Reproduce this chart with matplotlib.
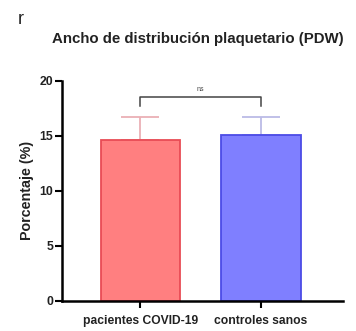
import matplotlib
matplotlib.use("Agg")
import matplotlib.pyplot as plt

plt.rcParams['font.family'] = ['Liberation Sans', 'DejaVu Sans']

categories = ["pacientes COVID-19", "controles sanos"]
means = [14.6, 15.1]
sd_upper = [2.1, 1.6]
yticks = [0, 5, 10, 15, 20]

face_colors = ["#FF7F80", "#7F7FFF"]
edge_colors = ["#E84C55", "#4C4CE6"]
err_colors = ["#EBB0B5", "#BBBBE6"]

fig = plt.figure(figsize=(3.56, 3.31), dpi=100)
ax = fig.add_axes([0.173, 0.0915, 0.79, 0.665])

x = list(range(len(categories)))
ax.bar(x, means, width=0.66, color=face_colors, edgecolor=edge_colors,
       linewidth=1.3, zorder=2)
for xi, m, e, c in zip(x, means, sd_upper, err_colors):
    ax.errorbar(xi, m, yerr=[[0], [e]], fmt='none', ecolor=c,
                elinewidth=1.3, capsize=14, capthick=1.3, zorder=1)

# significance bracket
ax.plot([0, 0, 1, 1], [17.7, 18.5, 18.5, 17.7], color="#444444", lw=1.1,
        clip_on=False)
ax.text(0.5, 18.9, "ns", ha="center", va="bottom", fontsize=5, color="#444444")

ax.set_xlim(-0.655, 1.68)
ax.set_ylim(0, 20)
ax.set_yticks(yticks)
ax.set_xticks(x)
ax.set_xticklabels(categories, fontsize=8.7, fontweight="bold", color="#222222")
ax.tick_params(axis="y", labelsize=8.8, width=1.5, length=5, pad=1,
               labelcolor="#222222")
ax.tick_params(axis="x", width=1.5, length=5, pad=5)
for lbl in ax.get_yticklabels():
    lbl.set_fontweight("bold")
ax.set_ylabel("Porcentaje (%)", fontsize=10.3, fontweight="bold", color="#222222",
              labelpad=4)
for s in ["top", "right"]:
    ax.spines[s].set_visible(False)
for s in ["left", "bottom"]:
    ax.spines[s].set_linewidth(1.8)

fig.text(0.557, 0.882, "Ancho de distribución plaquetario (PDW)", ha="center",
         va="center", fontsize=10.8, fontweight="bold", color="#222222")
fig.text(0.05, 0.94, "r", ha="left", va="center", fontsize=13, color="#222222")

fig.savefig("out.png", dpi=100)
